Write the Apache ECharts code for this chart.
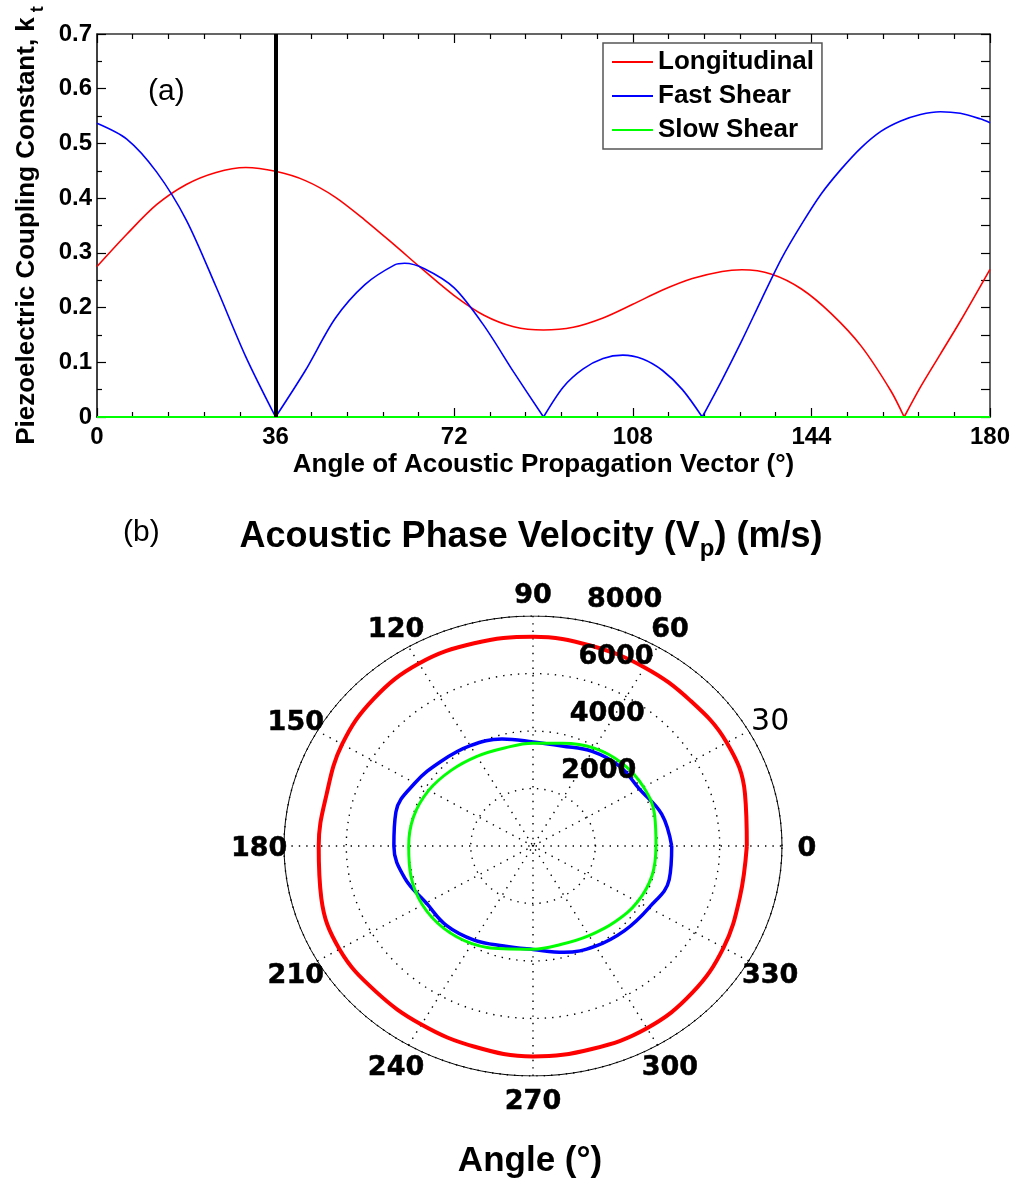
<!DOCTYPE html>
<html>
<head>
<meta charset="utf-8">
<script src="https://cdn.jsdelivr.net/npm/echarts@6/dist/echarts.min.js"></script>
<style>
html, body { margin: 0; padding: 0; background: #fff; }
#chart { width: 1015px; height: 1181px; }
</style>
</head>
<body>
<div id="chart"></div>
<script>
// ---- (a) coupling constant kt vs propagation angle ----
const longAngles = [0, 6, 12, 18, 24, 30, 36, 42, 48, 54, 60, 66, 72, 78, 84, 90, 96, 102, 108, 114,
  120, 126, 130, 136, 142, 148, 154, 160, 162.7, 166, 170, 174, 180];
const longK = [0.275, 0.334, 0.388, 0.425, 0.447, 0.456, 0.449, 0.432, 0.402, 0.360, 0.314, 0.267, 0.222, 0.186, 0.165, 0.159, 0.164, 0.181, 0.206, 0.232,
  0.253, 0.266, 0.269, 0.261, 0.234, 0.189, 0.130, 0.048, 0, 0.055, 0.115, 0.175, 0.270];

const fastAngles = [0, 6, 12, 18, 24, 30, 36, 42, 48, 54, 60, 62, 66, 72, 78, 84, 90, 94, 98, 102,
  106, 110, 114, 118, 122, 126, 130, 134, 138, 142, 146, 150, 154, 158, 162, 166, 170, 174, 178, 180];
const fastK = [0.537, 0.508, 0.448, 0.360, 0.238, 0.110, 0, 0.085, 0.180, 0.242, 0.278, 0.281, 0.271, 0.236, 0.167, 0.082, 0, 0.055, 0.088, 0.107,
  0.113, 0.106, 0.085, 0.050, 0, 0.068, 0.140, 0.216, 0.290, 0.352, 0.408, 0.453, 0.492, 0.522, 0.541, 0.553, 0.558, 0.555, 0.545, 0.538];

const slowAngles = [0, 45, 90, 135, 180];
const slowK = [0, 0, 0, 0, 0];

const markAngle = 36;

// ---- (b) phase velocity (m/s) vs angle ----
const polarAngles = [0, 15, 30, 45, 60, 75, 90, 105, 120, 135, 150, 165,
  180, 195, 210, 225, 240, 255, 270, 285, 300, 315, 330, 345];
const longV = [6870, 7050, 7190, 7150, 7170, 7210, 7280, 7300, 7330, 7240, 7080, 6870,
  6885, 7040, 7180, 7150, 7170, 7230, 7320, 7310, 7320, 7230, 7070, 6880];
const fastV = [4456, 4280, 3950, 3930, 3800, 3600, 3620, 3850, 4030, 4170, 4380, 4560,
  4470, 4270, 3960, 3920, 3780, 3600, 3600, 3830, 4020, 4160, 4300, 4530];
const slowV = [3952, 4050, 4100, 4060, 3930, 3700, 3572, 3530, 3600, 3720, 3870, 3970,
  3994, 4060, 4100, 4050, 3920, 3700, 3590, 3540, 3600, 3730, 3880, 3960];

const ringValues = [2000, 4000, 6000, 8000];
const spokeAngles = [0, 30, 60, 90, 120, 150];
const angleLabels = [0, 30, 60, 90, 120, 150, 180, 210, 240, 270, 300, 330];

const FONT = '"Liberation Sans", Arial, Helvetica, sans-serif';
const PFONT = '"DejaVu Sans", sans-serif';
const RMAX = 8000;
const RSTEP = 2000;

const rad = d => d * Math.PI / 180;
const toXY = (a, r) => [r * Math.cos(rad(a)), r * Math.sin(rad(a))];
const pairs = (xs, ys) => xs.map((x, i) => [x, ys[i]]);

// split a curve at its interior zeros so the cusps stay sharp
function lobes(pts) {
  const out = [];
  let cur = [];
  pts.forEach((p, i) => {
    cur.push(p);
    if (p[1] === 0 && i > 0 && i < pts.length - 1) {
      out.push(cur);
      cur = [p];
    }
  });
  out.push(cur);
  return out;
}

function closedLoop(vals) {
  const d = polarAngles.map((a, i) => toXY(a, vals[i]));
  d.push(toXY(360, vals[0]));
  return d;
}

function ring(r) {
  const d = [];
  for (let a = 0; a <= 360; a += 3) d.push(toXY(a, r));
  return d;
}

const series = [];

// panel (a)
function addCurve(name, color, pts, split) {
  (split ? lobes(pts) : [pts]).forEach(d => {
    series.push({
      name: name, type: 'line', xAxisIndex: 0, yAxisIndex: 0,
      data: d, smooth: 0.3, symbol: 'none', z: 4,
      lineStyle: { color: color, width: 1.6 },
      itemStyle: { color: color }
    });
  });
}
addCurve('Longitudinal', '#ff0000', pairs(longAngles, longK), true);
addCurve('Fast Shear', '#0000ff', pairs(fastAngles, fastK), true);
addCurve('Slow Shear', '#00ff00', pairs(slowAngles, slowK), false);
series[series.length - 1].lineStyle.width = 2;
series[series.length - 1].markLine = {
  silent: true, symbol: 'none', label: { show: false },
  lineStyle: { color: '#000', width: 4, type: 'solid' },
  data: [{ xAxis: markAngle }]
};

// panel (b): grid rings and spokes
const dotted = { color: '#000', width: 1.4, type: [1.4, 6] };
ringValues.forEach(r => {
  series.push({
    type: 'line', xAxisIndex: 2, yAxisIndex: 2, data: ring(r), symbol: 'none',
    silent: true, z: 1, lineStyle: dotted
  });
});
series.push({
  type: 'line', xAxisIndex: 2, yAxisIndex: 2, data: ring(RMAX), symbol: 'none',
  silent: true, z: 1, lineStyle: { color: '#000', width: 1 }
});
spokeAngles.forEach(a => {
  series.push({
    type: 'line', xAxisIndex: 2, yAxisIndex: 2, symbol: 'none', silent: true, z: 1,
    data: [toXY(a + 180, RMAX), toXY(a, RMAX)], lineStyle: dotted
  });
});

// panel (b): velocity curves
[['vL', longV, '#ff0000', 4], ['vF', fastV, '#0000ff', 3.5], ['vS', slowV, '#00ff00', 3]].forEach(s => {
  series.push({
    name: s[0], type: 'line', xAxisIndex: 2, yAxisIndex: 2, data: closedLoop(s[1]),
    smooth: 0.4, symbol: 'none', z: 3, lineStyle: { color: s[2], width: s[3] }
  });
});

// panel (b): angle and radius labels
const polarLabel = {
  show: true, position: 'inside', formatter: p => p.name, color: '#000', opacity: 1,
  fontFamily: PFONT, fontWeight: 'bold', fontSize: 27,
  textBorderColor: '#000', textBorderWidth: 0.5
};
const hiddenDot = { color: 'rgba(0,0,0,0)', opacity: 1 };
series.push({
  type: 'scatter', xAxisIndex: 2, yAxisIndex: 2, silent: true, clip: false, z: 6,
  symbolSize: 1, itemStyle: hiddenDot,
  data: angleLabels.map(a => {
    const item = { value: toXY(a, 1.1 * RMAX), name: String(a) };
    if (a === 30) item.label = { fontWeight: 'normal', fontSize: 30, textBorderWidth: 0 };
    return item;
  }),
  label: Object.assign({}, polarLabel, { align: 'center', verticalAlign: 'middle', offset: [0, 3] })
});
series.push({
  type: 'scatter', xAxisIndex: 2, yAxisIndex: 2, silent: true, clip: false, z: 6,
  symbolSize: 1, itemStyle: hiddenDot,
  data: ringValues.map(r => ({ value: toXY(82, r + RSTEP / 20), name: String(r) })),
  label: Object.assign({}, polarLabel, { align: 'left', verticalAlign: 'bottom', offset: [19, -2] })
});

const tickStyle = { color: '#000', width: 1.2 };
const labelStyle = { color: '#000', fontFamily: FONT, fontWeight: 'bold', fontSize: 24 };

const option = {
  animation: false,
  backgroundColor: '#fff',
  textStyle: { fontFamily: FONT },
  grid: [
    { left: 97, top: 34, width: 893, height: 383 },
    { left: 284, top: 616, width: 498, height: 460 }
  ],
  legend: {
    data: ['Longitudinal', 'Fast Shear', 'Slow Shear'],
    orient: 'vertical', left: 603, top: 43,
    itemWidth: 41, itemHeight: 25, itemGap: 8,
    padding: [6, 8, 6, 8],
    itemStyle: { opacity: 0 },
    backgroundColor: '#fff', borderColor: '#555', borderWidth: 1.5, borderRadius: 0,
    textStyle: { fontFamily: FONT, fontWeight: 'bold', fontSize: 26, color: '#000' }
  },
  xAxis: [
    {
      gridIndex: 0, type: 'value', min: 0, max: 180, interval: 36, position: 'bottom',
      axisLine: { onZero: false, lineStyle: { color: '#000', width: 1.5 } },
      axisTick: { inside: true, length: 9, lineStyle: tickStyle },
      minorTick: { show: true, splitNumber: 5, length: 5, lineStyle: tickStyle },
      axisLabel: Object.assign({ margin: 8 }, labelStyle),
      splitLine: { show: false },
      name: 'Angle of Acoustic Propagation Vector (°)', nameLocation: 'middle', nameGap: 35,
      nameTextStyle: { color: '#000', fontFamily: FONT, fontWeight: 'bold', fontSize: 26 }
    },
    {
      gridIndex: 0, type: 'value', min: 0, max: 180, interval: 36, position: 'top',
      axisLine: { onZero: false, lineStyle: { color: '#333', width: 1.5 } },
      axisTick: { inside: true, length: 9, lineStyle: tickStyle },
      minorTick: { show: true, splitNumber: 5, length: 5, lineStyle: tickStyle },
      axisLabel: { show: false }, splitLine: { show: false }
    },
    { gridIndex: 1, type: 'value', min: -RMAX, max: RMAX, show: false }
  ],
  yAxis: [
    {
      gridIndex: 0, type: 'value', min: 0, max: 0.7, interval: 0.1, position: 'left',
      axisLine: { show: true, onZero: false, lineStyle: { color: '#000', width: 1.5 } },
      axisTick: { show: true, inside: true, length: 9, lineStyle: tickStyle },
      minorTick: { show: true, splitNumber: 2, length: 5, lineStyle: tickStyle },
      axisLabel: Object.assign({ margin: 5 }, labelStyle),
      splitLine: { show: false },
      name: '{a|Piezoelectric Coupling Constant, k}{s| t}',
      nameLocation: 'middle', nameRotate: 90, nameGap: 50,
      nameTextStyle: {
        rich: {
          a: { color: '#000', fontFamily: FONT, fontWeight: 'bold', fontSize: 26, lineHeight: 40 },
          s: { color: '#000', fontFamily: FONT, fontWeight: 'bold', fontSize: 18, lineHeight: 40, verticalAlign: 'bottom' }
        }
      }
    },
    {
      gridIndex: 0, type: 'value', min: 0, max: 0.7, interval: 0.1, position: 'right',
      axisLine: { show: true, onZero: false, lineStyle: { color: '#333', width: 1.5 } },
      axisTick: { show: true, inside: true, length: 9, lineStyle: tickStyle },
      minorTick: { show: true, splitNumber: 2, length: 9, lineStyle: tickStyle },
      axisLabel: { show: false }, splitLine: { show: false }
    },
    { gridIndex: 1, type: 'value', min: -RMAX, max: RMAX, show: false }
  ],
  graphic: [
    {
      type: 'text', left: 148, top: 77, silent: true,
      style: { text: '(a)', fill: '#000', font: 'normal 30px ' + FONT }
    },
    {
      type: 'text', left: 123, top: 518, silent: true,
      style: { text: '(b)', fill: '#000', font: 'normal 30px ' + FONT }
    },
    {
      type: 'text', x: 531, y: 537, silent: true,
      style: {
        text: '{a|Acoustic Phase Velocity (V}{s|p}{a|) (m/s)}',
        align: 'center', verticalAlign: 'middle',
        rich: {
          a: { fill: '#000', fontFamily: FONT, fontWeight: 'bold', fontSize: 36, lineHeight: 48 },
          s: { fill: '#000', fontFamily: FONT, fontWeight: 'bold', fontSize: 24, lineHeight: 48, verticalAlign: 'bottom' }
        }
      }
    },
    {
      type: 'text', x: 530, y: 1161, silent: true,
      style: {
        text: 'Angle (°)', fill: '#000', align: 'center', verticalAlign: 'middle',
        font: 'bold 35px ' + FONT
      }
    }
  ],
  series: series
};

const chart = echarts.init(document.getElementById('chart'));
chart.setOption(option);
</script>
</body>
</html>
